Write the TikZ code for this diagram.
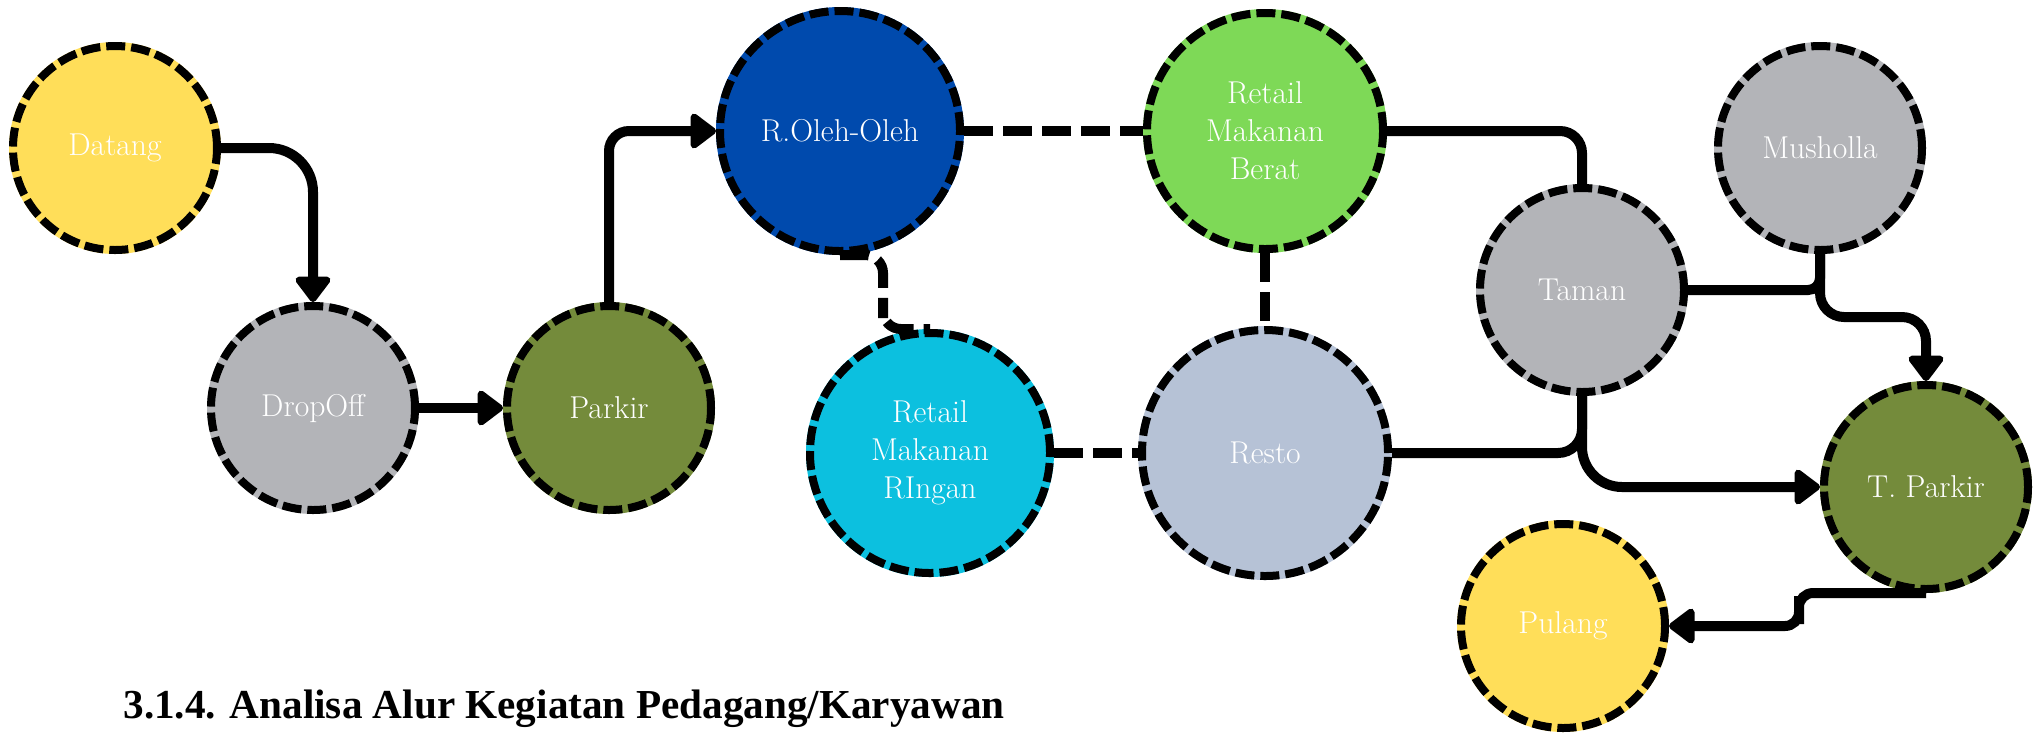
\documentclass[tikz,border=0pt]{standalone}
\usepackage{fontspec}
\newfontfamily\titlefont{Liberation Serif}
\usetikzlibrary{arrows.meta,calc}
\definecolor{cyel}{HTML}{FFDE59}
\definecolor{cgray}{HTML}{B3B4B8}
\definecolor{colive}{HTML}{748B3B}
\definecolor{cblue}{HTML}{004AAD}
\definecolor{cgreen}{HTML}{7ED957}
\definecolor{ccyan}{HTML}{0CC0DF}
\definecolor{cresto}{HTML}{B6C2D6}
\begin{document}
\begin{tikzpicture}[x=0.5pt,y=-0.5pt,
  nd/.style={circle, fill=#1, draw=black, line width=4pt,
    dash pattern=on 9.5pt off 3pt, preaction={draw=#1, solid},
    text=white, align=center, inner sep=0pt,
    font=\fontsize{15.8}{19}\selectfont, minimum size=102pt},
  conn/.style={draw=black, line width=5pt},
  arr/.style={-{Triangle[length=14pt,width=20pt,round]}},
  dconn/.style={conn, dash pattern=on 14.5pt off 5pt},
]
\useasboundingbox (0,0) rectangle (2039,736);
\node[nd=cyel] (datang) at (115,148) {Datang};
\node[nd=cgray] (dropoff) at (313,408) {DropOff};
\node[nd=colive] (parkir) at (609,408) {Parkir};
\node[nd=cblue, minimum size=120pt] (oleh) at (840,131) {R.Oleh-Oleh};
\node[nd=cgreen, minimum size=118pt] (berat) at (1265,131) {Retail\\Makanan\\Berat};
\node[nd=ccyan, minimum size=120pt] (ringan) at (930,453) {Retail\\Makanan\\RIngan};
\node[nd=cresto, minimum size=123pt] (resto) at (1265,453) {Resto};
\node[nd=cgray] (taman) at (1582,290) {Taman};
\node[nd=cgray] (musholla) at (1820,148) {Musholla};
\node[nd=colive] (tparkir) at (1926,487) {T. Parkir};
\node[nd=cyel] (pulang) at (1563,626) {Pulang};

\draw[conn,arr,rounded corners=22pt] (datang.east) -| (dropoff.north);
\draw[conn,arr] (dropoff) -- (parkir);
\draw[conn,arr,rounded corners=10pt] (parkir.north) |- (oleh.west);
\draw[dconn] (oleh) -- (berat);
\coordinate (oj) at (883,300);
\draw[dconn,rounded corners=9pt] (oleh.south) -| (oj) |- (ringan.north);
\draw[dconn] (berat) -- (resto);
\draw[dconn] (ringan) -- (resto);
\draw[conn,rounded corners=11pt] (berat.east) -| (taman.north);
\draw[conn,rounded corners=12pt] (resto.east) -| (taman.south);
\draw[conn,arr,rounded corners=20pt] (taman.south) |- (tparkir.west);
\draw[conn,rounded corners=6pt] (taman.east) -| (musholla.south);
\coordinate (mj) at (1870,317);
\draw[conn,arr,rounded corners=12pt] (musholla.south) |- (mj) -| (tparkir.north);
\coordinate (pj) at (1799,610);
\draw[conn,arr,rounded corners=7pt] (tparkir.south) -| (pj) |- (pulang.east);

\node[anchor=base west, inner sep=0pt, font=\titlefont\bfseries\fontsize{20.6}{24}\selectfont] (title) at (123,718) {3.1.4. Analisa Alur Kegiatan Pedagang/Karyawan};
\end{tikzpicture}
\end{document}
